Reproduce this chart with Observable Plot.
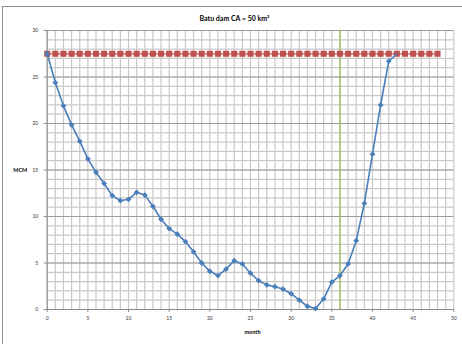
<!DOCTYPE html>
<html>
<head>
<meta charset="utf-8">
<script src="https://cdn.jsdelivr.net/npm/d3@7"></script>
<script src="https://cdn.jsdelivr.net/npm/@observablehq/plot@0.6"></script>
<style>
  html, body { margin: 0; padding: 0; background: #fff; overflow: hidden; }
  #wrap { position: relative; width: 462px; height: 344px; }
  #border { position: absolute; left: 2px; top: 6px; width: 480px; height: 360px; border: 1px solid #8c8c8c; box-sizing: border-box; pointer-events: none; }
</style>
</head>
<body>
<div id="wrap"><div id="border"></div></div>
<script>
const title = "Batu dam CA = 50 km²";
const xLabel = "month";
const yLabel = "MCM";
const xTicks = [0, 5, 10, 15, 20, 25, 30, 35, 40, 45, 50];
const yTicks = [0, 5, 10, 15, 20, 25, 30];

// Blue series: storage (MCM) by month
const storageMonths = d3.range(0, 44);
const storageValues = [27.5, 24.4, 21.9, 19.85, 18.1, 16.2, 14.75, 13.55, 12.25, 11.7,
  11.85, 12.6, 12.3, 11.1, 9.7, 8.7, 8.1, 7.3, 6.2, 5.0,
  4.1, 3.65, 4.35, 5.25, 4.9, 3.9, 3.1, 2.65, 2.45, 2.2,
  1.7, 1.0, 0.35, 0.1, 1.15, 2.95, 3.65, 4.9, 7.4, 11.4,
  16.7, 22.0, 26.7, 27.5];

// Red series: capacity
const capacityMonths = d3.range(0, 49);
const capacityValue = 27.5;

// Green marker line
const markerMonth = 36;

const storage = storageMonths.map((m, i) => ({month: m, value: storageValues[i]}));
const capacity = capacityMonths.map(m => ({month: m, value: capacityValue}));

const font = "Lato, 'Open Sans', sans-serif";

const chart = Plot.plot({
  width: 462,
  height: 344,
  marginLeft: 46.7,
  marginRight: 8.7,
  marginTop: 30,
  marginBottom: 35,
  style: {fontFamily: font, fontSize: "5px", color: "#333", background: "transparent"},
  x: {domain: [0, 50], label: null},
  y: {domain: [0, 30], label: null},
  marks: [
    Plot.ruleX(d3.range(0, 51), {stroke: "#c9c9c9", strokeWidth: 1.2}),
    Plot.ruleY(d3.range(0, 31), {stroke: "#c9c9c9", strokeWidth: 1.2}),
    Plot.ruleY(yTicks, {stroke: "#9a9a9a", strokeWidth: 1.2}),
    Plot.ruleX([0], {stroke: "#8a8a8a", strokeWidth: 1}),
    Plot.ruleY([0], {stroke: "#8a8a8a", strokeWidth: 1}),
    Plot.axisX({ticks: xTicks, tickSize: 3, tickPadding: 4, stroke: "#8a8a8a", fontSize: 5}),
    Plot.axisY({ticks: yTicks, tickSize: 3, tickPadding: 6, stroke: "#8a8a8a", fontSize: 5}),
    Plot.ruleX([markerMonth], {stroke: "#9bbb59", strokeWidth: 1.3}),
    Plot.line(capacity, {x: "month", y: "value", stroke: "#d98c8a", strokeWidth: 2}),
    Plot.dot(capacity, {x: "month", y: "value", symbol: "square", r: 3.4, fill: "#c0504d", stroke: "none"}),
    Plot.line(storage, {x: "month", y: "value", stroke: "#4a7ebb", strokeWidth: 1.6}),
    Plot.dot(storage.slice(0, storage.length - 1), {x: "month", y: "value", symbol: "diamond2", r: 2.6, fill: "#4a7ebb", stroke: "none"}),
    Plot.text([title], {frameAnchor: "top", dy: -14, dx: -16, textAnchor: "middle", fontWeight: "bold", fontSize: 7, fill: "#000"}),
    Plot.text([yLabel], {frameAnchor: "left", dx: -27, textAnchor: "middle", fontWeight: "bold", fontSize: 5.5, fill: "#000"}),
    Plot.text([xLabel], {frameAnchor: "bottom", dy: 24, dx: 2, textAnchor: "middle", fontWeight: "bold", fontSize: 5.5, fill: "#000"})
  ]
});
document.getElementById("wrap").prepend(chart);
</script>
</body>
</html>
